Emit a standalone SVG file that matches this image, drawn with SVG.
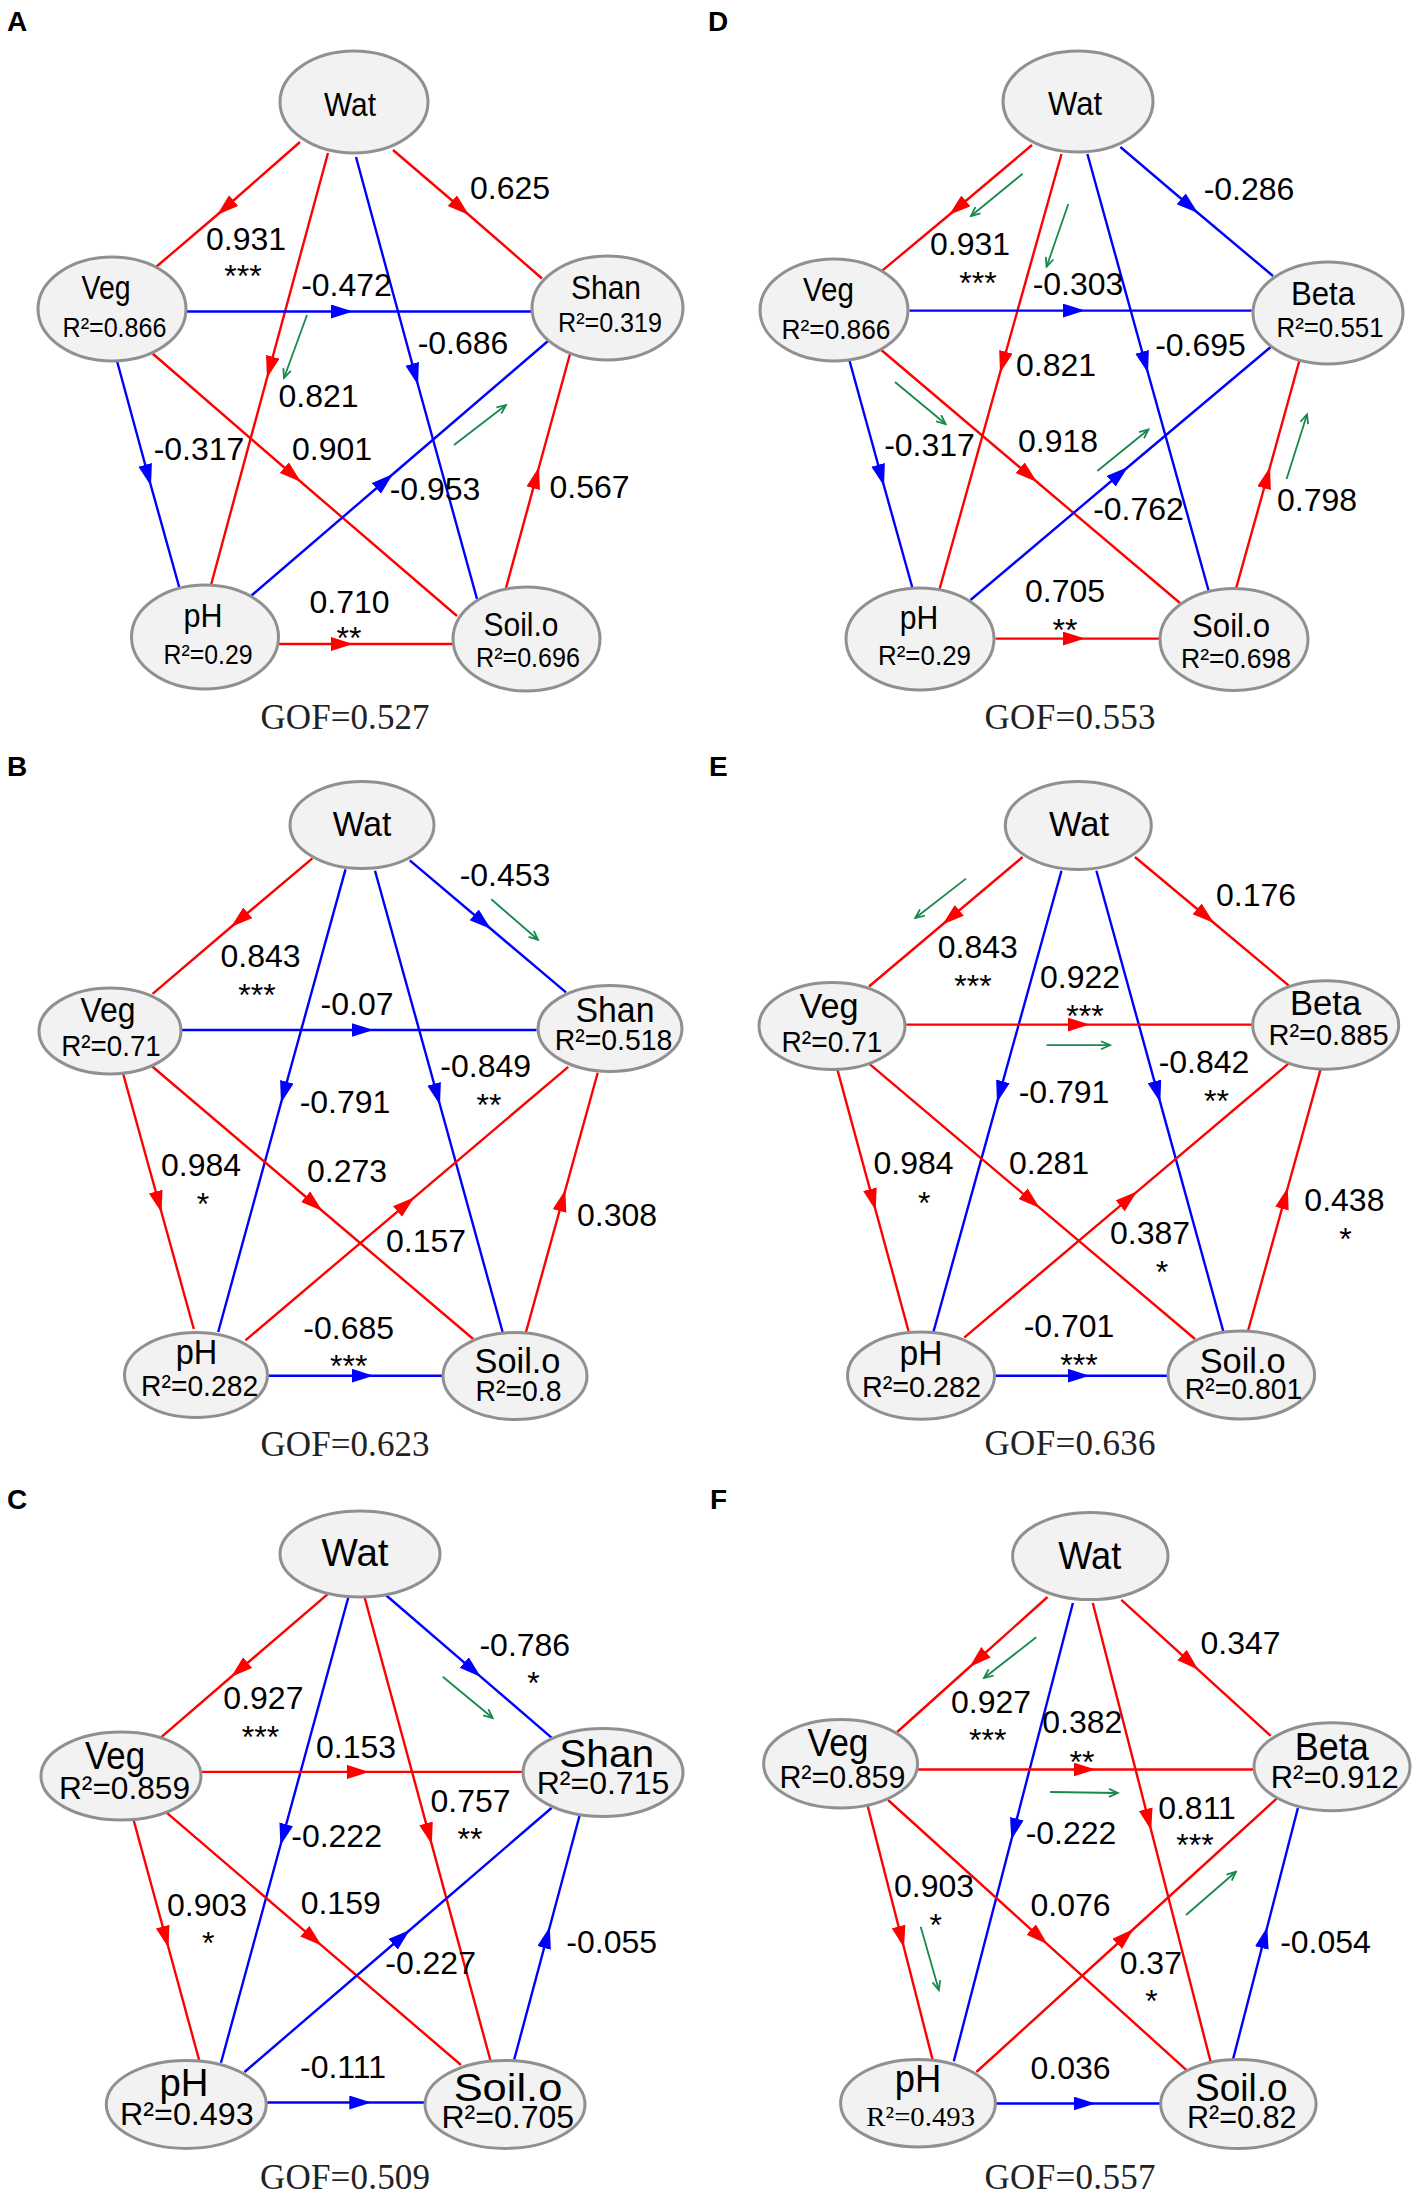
<svg xmlns="http://www.w3.org/2000/svg" width="1417" height="2196" viewBox="0 0 1417 2196">
<defs>
<style>
text{font-family:"Liberation Sans",Arial,sans-serif;fill:#000}
.e{fill:none;stroke-width:2.4}
.r{stroke:#f00;marker-mid:url(#ar)}
.b{stroke:#00f;marker-mid:url(#ab)}
.g{fill:none;stroke:#17894f;stroke-width:1.8;marker-end:url(#ag)}
ellipse{fill:#f2f2f2;stroke:#909090;stroke-width:3}
.t{font-size:32px;text-anchor:middle}
.c{text-anchor:middle}
.n1{font-size:34px}.r1{font-size:28px}
.n2{font-size:35px}.r2{font-size:30px}
.n3{font-size:38px}.r3{font-size:32px}
.sr{font-family:"Liberation Serif","Times New Roman",serif;font-size:28px}
.gof{font-family:"Liberation Serif","Times New Roman",serif;font-size:35px;text-anchor:middle;fill:#222}
.pl{font-size:28px;font-weight:bold}
</style>
<marker id="ar" markerUnits="userSpaceOnUse" markerWidth="24" markerHeight="16" viewBox="0 0 24 16" refX="22" refY="7" orient="auto"><path d="M0,0 L22,7 L0,14 z" fill="#f00"/></marker>
<marker id="ab" markerUnits="userSpaceOnUse" markerWidth="24" markerHeight="16" viewBox="0 0 24 16" refX="22" refY="7" orient="auto"><path d="M0,0 L22,7 L0,14 z" fill="#00f"/></marker>
<marker id="ag" markerUnits="userSpaceOnUse" markerWidth="12" markerHeight="12" viewBox="0 0 12 12" refX="10" refY="5" orient="auto"><path d="M1,1 L10,5 L1,9" fill="none" stroke="#17894f" stroke-width="1.8"/></marker>
</defs>
<rect width="1417" height="2196" fill="#fff"/>

<!-- ================= Panel A ================= -->
<g id="panelA">
<text class="pl" x="7" y="31">A</text>
<g id="A-connectors">
<path class="e r" d="M300,142 L217,215 L156,267"/>
<path class="e r" d="M328,153 L267,378 L211,585"/>
<path class="e b" d="M356,157 L418,385 L477,599"/>
<path class="e r" d="M393,150 L469,215 L542,278.5"/>
<path class="e b" d="M186.5,311.5 L353,311.5 L531,311.5"/>
<path class="e b" d="M117,361 L151,486 L180,590"/>
<path class="e r" d="M152,353 L301,482 L457,616"/>
<path class="e b" d="M251,596 L393,474 L548,341"/>
<path class="e r" d="M506,588 L539,467 L570,354"/>
<path class="e r" d="M278.5,644 L353,644 L453,644"/>
<path class="g" d="M307,315 L284,378"/>
<path class="g" d="M454,445 L506,405"/>
</g>
<g id="A-Wat"><ellipse cx="354" cy="102" rx="74" ry="51"/><text class="c n1" x="350" y="116" textLength="52" lengthAdjust="spacingAndGlyphs">Wat</text></g>
<g id="A-Veg"><ellipse cx="112" cy="309" rx="74" ry="52"/><text class="c n1" x="106" y="299" textLength="49" lengthAdjust="spacingAndGlyphs">Veg</text><text class="c r1" x="114.5" y="337" textLength="104" lengthAdjust="spacingAndGlyphs">R²=0.866</text></g>
<g id="A-Shan"><ellipse cx="607.5" cy="308" rx="75.5" ry="52"/><text class="c n1" x="606" y="299" textLength="70" lengthAdjust="spacingAndGlyphs">Shan</text><text class="c r1" x="610" y="332" textLength="104" lengthAdjust="spacingAndGlyphs">R²=0.319</text></g>
<g id="A-pH"><ellipse cx="205" cy="637" rx="73.5" ry="52"/><text class="c n1" x="203" y="627" textLength="39" lengthAdjust="spacingAndGlyphs">pH</text><text class="c r1" x="208" y="664" textLength="89" lengthAdjust="spacingAndGlyphs">R²=0.29</text></g>
<g id="A-Soil"><ellipse cx="526.5" cy="639" rx="73.5" ry="52"/><text class="c n1" x="521" y="636" textLength="75" lengthAdjust="spacingAndGlyphs">Soil.o</text><text class="c r1" x="528" y="667" textLength="104" lengthAdjust="spacingAndGlyphs">R²=0.696</text></g>
<g id="A-labels">
<text class="t" x="510" y="199">0.625</text>
<text class="t" x="246" y="250">0.931</text>
<text class="t" x="243" y="287">***</text>
<text class="t" x="346.5" y="296">-0.472</text>
<text class="t" x="463" y="354">-0.686</text>
<text class="t" x="318.5" y="407">0.821</text>
<text class="t" x="199" y="460">-0.317</text>
<text class="t" x="332" y="460">0.901</text>
<text class="t" x="435" y="500">-0.953</text>
<text class="t" x="589.5" y="498">0.567</text>
<text class="t" x="349.5" y="613">0.710</text>
<text class="t" x="349" y="649">**</text>
<text class="gof" x="345" y="729" textLength="169" lengthAdjust="spacing">GOF=0.527</text>
</g>
</g>

<!-- ================= Panel D ================= -->
<g id="panelD">
<text class="pl" x="708" y="31">D</text>
<g id="D-connectors">
<path class="e r" d="M1032,145 L949,215 L881.3,271.4"/>
<path class="e r" d="M1061.5,154 L1000,373 L939.3,590"/>
<path class="e b" d="M1087.4,154 L1148,373 L1208.7,591"/>
<path class="e b" d="M1120.4,147 L1198,213 L1273,276"/>
<path class="e b" d="M909.4,310.6 L1085,310.6 L1251.7,310.6"/>
<path class="e b" d="M849.6,361 L884,486 L913,590"/>
<path class="e r" d="M881.3,350 L1037,482 L1180,603"/>
<path class="e b" d="M970.5,600 L1128,467 L1270.7,347"/>
<path class="e r" d="M1235.9,589 L1270,467 L1299.3,361"/>
<path class="e r" d="M995.4,638.6 L1085,638.6 L1159.8,638.6"/>
<path class="g" d="M1022.6,173.7 L971,216"/>
<path class="g" d="M1068.3,204 L1046.6,266.7"/>
<path class="g" d="M895,382 L945.6,424"/>
<path class="g" d="M1097.3,471 L1148.5,429.5"/>
<path class="g" d="M1286.6,479 L1307,414.4"/>
</g>
<g id="D-Wat"><ellipse cx="1078" cy="101.5" rx="75" ry="50.5"/><text class="c n1" x="1075" y="115" textLength="54" lengthAdjust="spacingAndGlyphs">Wat</text></g>
<g id="D-Veg"><ellipse cx="834" cy="310" rx="74" ry="51"/><text class="c n1" x="828.5" y="301" textLength="51" lengthAdjust="spacingAndGlyphs">Veg</text><text class="c r1" x="836" y="339" textLength="109" lengthAdjust="spacingAndGlyphs">R²=0.866</text></g>
<g id="D-Beta"><ellipse cx="1328" cy="313" rx="75" ry="51"/><text class="c n1" x="1323" y="305" textLength="64" lengthAdjust="spacingAndGlyphs">Beta</text><text class="c r1" x="1330" y="337" textLength="107" lengthAdjust="spacingAndGlyphs">R²=0.551</text></g>
<g id="D-pH"><ellipse cx="920" cy="639" rx="74" ry="51"/><text class="c n1" x="919" y="629" textLength="38.5" lengthAdjust="spacingAndGlyphs">pH</text><text class="c r1" x="924.5" y="665" textLength="93" lengthAdjust="spacingAndGlyphs">R²=0.29</text></g>
<g id="D-Soil"><ellipse cx="1234" cy="639.5" rx="74" ry="51"/><text class="c n1" x="1231" y="637" textLength="78" lengthAdjust="spacingAndGlyphs">Soil.o</text><text class="c r1" x="1236" y="668" textLength="110" lengthAdjust="spacingAndGlyphs">R²=0.698</text></g>
<g id="D-labels">
<text class="t" x="1249" y="200">-0.286</text>
<text class="t" x="970" y="255">0.931</text>
<text class="t" x="978" y="294">***</text>
<text class="t" x="1078" y="295">-0.303</text>
<text class="t" x="1200.5" y="356">-0.695</text>
<text class="t" x="1056" y="376">0.821</text>
<text class="t" x="929.5" y="455.5">-0.317</text>
<text class="t" x="1058" y="452">0.918</text>
<text class="t" x="1138.5" y="520">-0.762</text>
<text class="t" x="1317" y="511">0.798</text>
<text class="t" x="1065" y="602">0.705</text>
<text class="t" x="1065" y="641">**</text>
<text class="gof" x="1070" y="729" textLength="171" lengthAdjust="spacing">GOF=0.553</text>
</g>
</g>

<!-- ================= Panel B ================= -->
<g id="panelB">
<text class="pl" x="7" y="776">B</text>
<g id="B-connectors">
<path class="e r" d="M312.4,858.4 L231,927 L152.6,993.8"/>
<path class="e b" d="M345.5,869.4 L281,1103 L218.2,1332"/>
<path class="e b" d="M375,870.8 L440,1105 L502.6,1332"/>
<path class="e b" d="M409.8,860.3 L491,929 L566,992.4"/>
<path class="e b" d="M182,1030 L373.6,1030 L536.6,1030"/>
<path class="e r" d="M123.2,1074 L161.6,1212.8 L193.8,1329"/>
<path class="e r" d="M151.7,1066 L322.4,1211 L473.2,1339"/>
<path class="e r" d="M245.4,1340.4 L414.3,1197.3 L568.3,1066.8"/>
<path class="e r" d="M526,1332 L565.4,1189.8 L597.7,1072.8"/>
<path class="e b" d="M268,1375.7 L373.6,1375.7 L442.8,1375.7"/>
<path class="g" d="M491.3,899.3 L538,939.7"/>
</g>
<g id="B-Wat"><ellipse cx="362" cy="825" rx="72" ry="43.6"/><text class="c n2" x="362" y="835.5" textLength="58.7" lengthAdjust="spacingAndGlyphs">Wat</text></g>
<g id="B-Veg"><ellipse cx="110" cy="1031" rx="71" ry="43"/><text class="c n2" x="108" y="1022" textLength="55" lengthAdjust="spacingAndGlyphs">Veg</text><text class="c r2" x="111" y="1056" textLength="99.6" lengthAdjust="spacingAndGlyphs">R²=0.71</text></g>
<g id="B-Shan"><ellipse cx="610" cy="1028.5" rx="72" ry="43"/><text class="c n2" x="615" y="1022" textLength="79" lengthAdjust="spacingAndGlyphs">Shan</text><text class="c r2" x="613.5" y="1050" textLength="117.7" lengthAdjust="spacingAndGlyphs">R²=0.518</text></g>
<g id="B-pH"><ellipse cx="196" cy="1375" rx="71.5" ry="42.5"/><text class="c n2" x="196.5" y="1364" textLength="41.6" lengthAdjust="spacingAndGlyphs">pH</text><text class="c r2" x="199.6" y="1396" textLength="117" lengthAdjust="spacingAndGlyphs">R²=0.282</text></g>
<g id="B-Soil"><ellipse cx="515" cy="1376" rx="72" ry="43.5"/><text class="c n2" x="517.5" y="1372.5" textLength="86" lengthAdjust="spacingAndGlyphs">Soil.o</text><text class="c r2" x="518.5" y="1401" textLength="86" lengthAdjust="spacingAndGlyphs">R²=0.8</text></g>
<g id="B-labels">
<text class="t" x="505" y="886">-0.453</text>
<text class="t" x="260.5" y="967">0.843</text>
<text class="t" x="257" y="1006">***</text>
<text class="t" x="357" y="1014.5">-0.07</text>
<text class="t" x="485.7" y="1077.4">-0.849</text>
<text class="t" x="489" y="1116">**</text>
<text class="t" x="345" y="1112.7">-0.791</text>
<text class="t" x="201" y="1176">0.984</text>
<text class="t" x="203" y="1215">*</text>
<text class="t" x="347" y="1181.6">0.273</text>
<text class="t" x="426" y="1251.8">0.157</text>
<text class="t" x="617" y="1225.6">0.308</text>
<text class="t" x="348.7" y="1339">-0.685</text>
<text class="t" x="348.7" y="1377">***</text>
<text class="gof" x="345" y="1456" textLength="169" lengthAdjust="spacing">GOF=0.623</text>
</g>
</g>

<!-- ================= Panel E ================= -->
<g id="panelE">
<text class="pl" x="709" y="776">E</text>
<g id="E-connectors">
<path class="e r" d="M1022.6,857 L942.5,924.5 L869,986.5"/>
<path class="e b" d="M1061.5,870.8 L997,1102.6 L933.4,1332"/>
<path class="e b" d="M1096.4,870.8 L1160.3,1102.6 L1223.2,1331"/>
<path class="e r" d="M1134.9,857 L1214,923 L1288.8,985.6"/>
<path class="e r" d="M906.2,1024.6 L1089.6,1024.6 L1252.6,1024.6"/>
<path class="e r" d="M837.4,1069.6 L875.7,1210.5 L908.5,1331"/>
<path class="e r" d="M869.1,1063.6 L1039.8,1207.9 L1195,1339"/>
<path class="e r" d="M964.2,1337.6 L1137,1191.6 L1290.2,1062.2"/>
<path class="e r" d="M1248,1331 L1287.8,1187.5 L1320.5,1069.6"/>
<path class="e b" d="M995.4,1375.7 L1089.6,1375.7 L1168,1375.7"/>
<path class="g" d="M966,878.6 L915.3,918"/>
<path class="g" d="M1046.6,1045.2 L1110,1045.2"/>
</g>
<g id="E-Wat"><ellipse cx="1078.3" cy="825.4" rx="73" ry="44"/><text class="c n2" x="1079" y="836.4" textLength="60" lengthAdjust="spacingAndGlyphs">Wat</text></g>
<g id="E-Veg"><ellipse cx="832" cy="1026" rx="73" ry="43.6"/><text class="c n2" x="829" y="1017.7" textLength="59" lengthAdjust="spacingAndGlyphs">Veg</text><text class="c r2" x="832" y="1052" textLength="101" lengthAdjust="spacingAndGlyphs">R²=0.71</text></g>
<g id="E-Beta"><ellipse cx="1325.7" cy="1025" rx="73" ry="44.3"/><text class="c n2" x="1325.6" y="1015.4" textLength="71" lengthAdjust="spacingAndGlyphs">Beta</text><text class="c r2" x="1328.5" y="1045" textLength="120" lengthAdjust="spacingAndGlyphs">R²=0.885</text></g>
<g id="E-pH"><ellipse cx="921" cy="1375.7" rx="73.5" ry="43.6"/><text class="c n2" x="921" y="1365" textLength="43" lengthAdjust="spacingAndGlyphs">pH</text><text class="c r2" x="921.4" y="1397.3" textLength="119" lengthAdjust="spacingAndGlyphs">R²=0.282</text></g>
<g id="E-Soil"><ellipse cx="1241.3" cy="1375" rx="73.3" ry="44"/><text class="c n2" x="1242.7" y="1372.5" textLength="86" lengthAdjust="spacingAndGlyphs">Soil.o</text><text class="c r2" x="1243.5" y="1398.7" textLength="117.7" lengthAdjust="spacingAndGlyphs">R²=0.801</text></g>
<g id="E-labels">
<text class="t" x="1256" y="906">0.176</text>
<text class="t" x="977.8" y="958">0.843</text>
<text class="t" x="973" y="997">***</text>
<text class="t" x="1080" y="987.9">0.922</text>
<text class="t" x="1085" y="1027">***</text>
<text class="t" x="1204" y="1072.8">-0.842</text>
<text class="t" x="1216.4" y="1112">**</text>
<text class="t" x="1064" y="1102.6">-0.791</text>
<text class="t" x="913.6" y="1173.8">0.984</text>
<text class="t" x="924.3" y="1213.7">*</text>
<text class="t" x="1049" y="1173.8">0.281</text>
<text class="t" x="1150" y="1244">0.387</text>
<text class="t" x="1162" y="1283">*</text>
<text class="t" x="1344.4" y="1210.5">0.438</text>
<text class="t" x="1345.4" y="1249.5">*</text>
<text class="t" x="1069" y="1336.7">-0.701</text>
<text class="t" x="1079" y="1376">***</text>
<text class="gof" x="1070" y="1455" textLength="171" lengthAdjust="spacing">GOF=0.636</text>
</g>
</g>

<!-- ================= Panel C ================= -->
<g id="panelC">
<text class="pl" x="7" y="1509">C</text>
<g id="C-connectors">
<path class="e r" d="M328.3,1593.7 L231,1677 L160.7,1737.6"/>
<path class="e b" d="M348.7,1596 L280.4,1845.5 L221,2062.7"/>
<path class="e r" d="M364.5,1597 L431.8,1844.6 L490.4,2060.3"/>
<path class="e b" d="M385.8,1595 L480.9,1676.9 L551.5,1737.6"/>
<path class="e r" d="M201.5,1771.9 L369,1771.9 L523,1771.9"/>
<path class="e r" d="M133.6,1820 L168.5,1947.8 L199.2,2060.3"/>
<path class="e r" d="M166.6,1812.7 L321.5,1945.4 L461,2065"/>
<path class="e b" d="M244.5,2072 L409.8,1930 L551.5,1808"/>
<path class="e b" d="M514,2060.3 L549.8,1926.7 L579.6,1815.5"/>
<path class="e b" d="M267.2,2102.5 L371.3,2102.5 L424.7,2102.5"/>
<path class="g" d="M442.8,1676.7 L492.7,1718"/>
</g>
<g id="C-Wat"><ellipse cx="360" cy="1554" rx="80" ry="43"/><text class="c n3" x="355" y="1565.5" textLength="67" lengthAdjust="spacingAndGlyphs">Wat</text></g>
<g id="C-Veg"><ellipse cx="121" cy="1776" rx="80" ry="44"/><text class="c n3" x="115" y="1768.6" textLength="60" lengthAdjust="spacingAndGlyphs">Veg</text><text class="c r3" x="124.5" y="1799" textLength="131" lengthAdjust="spacingAndGlyphs">R²=0.859</text></g>
<g id="C-Shan"><ellipse cx="603" cy="1772.5" rx="80" ry="44"/><text class="c n3" x="606.7" y="1767" textLength="95" lengthAdjust="spacingAndGlyphs">Shan</text><text class="c r3" x="603" y="1794" textLength="132.6" lengthAdjust="spacingAndGlyphs">R²=0.715</text></g>
<g id="C-pH"><ellipse cx="186.3" cy="2104.4" rx="80" ry="44"/><text class="c n3" x="184" y="2095.5" textLength="49" lengthAdjust="spacingAndGlyphs">pH</text><text class="c r3" x="186.8" y="2125" textLength="133.6" lengthAdjust="spacingAndGlyphs">R²=0.493</text></g>
<g id="C-Soil"><ellipse cx="505" cy="2104.4" rx="80" ry="44"/><text class="c n3" x="508" y="2100.6" textLength="108.7" lengthAdjust="spacingAndGlyphs">Soil.o</text><text class="c r3" x="507.8" y="2128.3" textLength="132.7" lengthAdjust="spacingAndGlyphs">R²=0.705</text></g>
<g id="C-labels">
<text class="t" x="524.8" y="1656">-0.786</text>
<text class="t" x="533.4" y="1694">*</text>
<text class="t" x="263.4" y="1708.6">0.927</text>
<text class="t" x="260.4" y="1748">***</text>
<text class="t" x="356" y="1757.8">0.153</text>
<text class="t" x="470.5" y="1811.8">0.757</text>
<text class="t" x="470" y="1850">**</text>
<text class="t" x="336.6" y="1847">-0.222</text>
<text class="t" x="207" y="1916">0.903</text>
<text class="t" x="208.3" y="1954">*</text>
<text class="t" x="340.7" y="1914">0.159</text>
<text class="t" x="430.6" y="1973.6">-0.227</text>
<text class="t" x="611.7" y="1952.5">-0.055</text>
<text class="t" x="343" y="2078">-0.111</text>
<text class="gof" x="345" y="2189" textLength="170" lengthAdjust="spacing">GOF=0.509</text>
</g>
</g>

<!-- ================= Panel F ================= -->
<g id="panelF">
<text class="pl" x="710" y="1509">F</text>
<g id="F-connectors">
<path class="e r" d="M1047.5,1597 L969.6,1667 L897.2,1732"/>
<path class="e b" d="M1072.9,1603 L1011.3,1840 L953.8,2061.3"/>
<path class="e r" d="M1092.8,1603 L1151.2,1830.5 L1210.5,2061.3"/>
<path class="e r" d="M1121.3,1599.8 L1198.3,1669.8 L1270.7,1735.8"/>
<path class="e r" d="M917.6,1769.5 L1095.5,1769.5 L1254,1769.5"/>
<path class="e r" d="M867.7,1806 L904,1947.8 L932.5,2059.4"/>
<path class="e r" d="M888,1800 L1047.5,1944.3 L1187,2070.6"/>
<path class="e r" d="M976.4,2072 L1133.5,1929 L1276.6,1798.6"/>
<path class="e b" d="M1233,2059.4 L1267.3,1926.7 L1297.9,1808"/>
<path class="e b" d="M995.4,2103.5 L1095.5,2103.5 L1160.7,2103.5"/>
<path class="g" d="M1036.2,1637.3 L984,1678"/>
<path class="g" d="M1050.2,1792 L1118,1793"/>
<path class="g" d="M1186,1915 L1235.9,1871.8"/>
<path class="g" d="M920.7,1926.7 L938.8,1990"/>
</g>
<g id="F-Wat"><ellipse cx="1090.3" cy="1556" rx="77.7" ry="43.6"/><text class="c n3" x="1089.7" y="1568.8" textLength="63" lengthAdjust="spacingAndGlyphs">Wat</text></g>
<g id="F-Veg"><ellipse cx="840.6" cy="1763.7" rx="77" ry="44.3"/><text class="c n3" x="838" y="1756.4" textLength="61" lengthAdjust="spacingAndGlyphs">Veg</text><text class="c r3" x="842.4" y="1788.3" textLength="126" lengthAdjust="spacingAndGlyphs">R²=0.859</text></g>
<g id="F-Beta"><ellipse cx="1332" cy="1766.7" rx="78" ry="44"/><text class="c n3" x="1331.8" y="1760" textLength="74.3" lengthAdjust="spacingAndGlyphs">Beta</text><text class="c r3" x="1334.8" y="1788.3" textLength="128" lengthAdjust="spacingAndGlyphs">R²=0.912</text></g>
<g id="F-pH"><ellipse cx="918" cy="2103.2" rx="77.4" ry="43.8"/><text class="c n3" x="918" y="2092.2" textLength="46.5" lengthAdjust="spacingAndGlyphs">pH</text><text class="c sr" x="920.7" y="2126" textLength="108.7" lengthAdjust="spacingAndGlyphs">R²=0.493</text></g>
<g id="F-Soil"><ellipse cx="1238.4" cy="2104" rx="77.7" ry="44.5"/><text class="c n3" x="1241.3" y="2100.6" textLength="92.4" lengthAdjust="spacingAndGlyphs">Soil.o</text><text class="c r3" x="1241.8" y="2128.3" textLength="109.6" lengthAdjust="spacingAndGlyphs">R²=0.82</text></g>
<g id="F-labels">
<text class="t" x="1240.6" y="1653.7">0.347</text>
<text class="t" x="991" y="1713.3">0.927</text>
<text class="t" x="987.7" y="1751">***</text>
<text class="t" x="1082.3" y="1733">0.382</text>
<text class="t" x="1082" y="1773">**</text>
<text class="t" x="1197" y="1818.8">0.811</text>
<text class="t" x="1195" y="1856">***</text>
<text class="t" x="1071" y="1843.6">-0.222</text>
<text class="t" x="934" y="1897">0.903</text>
<text class="t" x="935.7" y="1935.6">*</text>
<text class="t" x="1070.5" y="1915.9">0.076</text>
<text class="t" x="1150.8" y="1973.6">0.37</text>
<text class="t" x="1151.6" y="2012">*</text>
<text class="t" x="1325.5" y="1952.5">-0.054</text>
<text class="t" x="1070.5" y="2079">0.036</text>
<text class="gof" x="1070" y="2189" textLength="171" lengthAdjust="spacing">GOF=0.557</text>
</g>
</g>
</svg>
